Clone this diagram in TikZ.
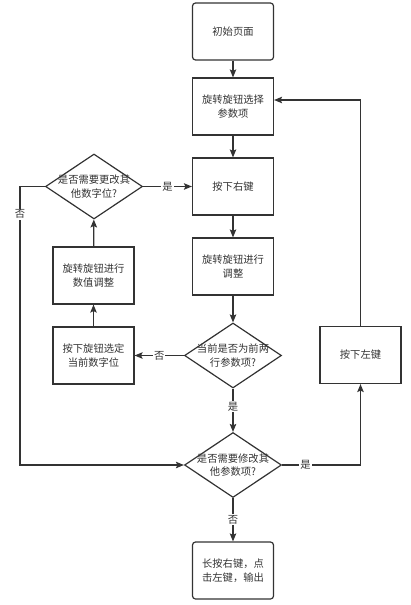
\documentclass[tikz,border=0pt]{standalone}
\usepackage{fontspec}
\newfontfamily\cjk{Noto Sans CJK SC}
\usetikzlibrary{shapes.geometric,arrows.meta}
\definecolor{lc}{HTML}{333333}
\definecolor{tc}{HTML}{333333}
\begin{document}
\begin{tikzpicture}[x=1pt,y=-1pt,
  txt/.style={text=tc, align=center, font=\cjk\fontsize{10.3}{13.5}\selectfont, inner sep=0pt},
  box/.style={txt, draw=lc, line width=1.2pt, minimum width=81pt, minimum height=57pt},
  rbox/.style={box, rounded corners=3pt},
  dia/.style={diamond, draw=lc, line width=1.2pt, inner sep=0pt, minimum width=97pt, minimum height=65pt},
  arr/.style={draw=lc, line width=1.2pt, -{Stealth[length=8pt,width=6.5pt,inset=1.5pt]}},
  lbl/.style={txt, fill=white, inner sep=1pt}]
\useasboundingbox (0,0) rectangle (410,605);
\node[rbox] (n1) at (233,31.5) {初始页面};
\node[box] (n2) at (233,106.5) {旋转旋钮选择\\参数项};
\node[box] (n3) at (233,186.5) {按下右键};
\node[box] (n4) at (233,266.5) {旋转旋钮进行\\调整};
\node[dia] (d1) at (233,355.5) {};
\node[txt] (t1) at (d1) {当前是否为前两\\行参数项?};
\node[box] (n5) at (93.5,355.5) {按下旋钮选定\\当前数字位};
\node[box] (n6) at (93.5,275.5) {旋转旋钮进行\\数值调整};
\node[dia] (d2) at (94,186.5) {};
\node[txt] (t2) at (d2) {是否需要更改其\\他数字位?};
\node[dia] (d3) at (233,465) {};
\node[txt] (t3) at (d3) {是否需要修改其\\他参数项?};
\node[rbox] (n8) at (233,570.5) {长按右键，点\\击左键，输出};
\node[box] (n7) at (360.5,355) {按下左键};
\coordinate (c1) at (20,186.5);
\coordinate (c2) at (20,465);
\coordinate (c3) at (360.5,465);
\coordinate (c4) at (360.5,100);
\draw[arr] (n1) -- (n2);
\draw[arr] (n2) -- (n3);
\draw[arr] (n3) -- (n4);
\draw[arr] (n4) -- (d1);
\draw[arr] (d1.west) -- node[lbl]{否} (n5.east);
\draw[arr] (d1.south) -- node[lbl,pos=0.42]{是} (d3.north);
\draw[arr] (n5) -- (n6);
\draw[arr] (n6) -- (d2);
\draw[arr] (d2.east) -- node[lbl]{是} (n3.west);
\draw[arr] (d2.west) -- (c1) -- node[lbl,pos=0.1]{否} (c2) -- (d3.west);
\draw[arr] (d3.east) -- node[lbl,pos=0.3]{是} (c3) -- (n7.south);
\draw[arr] (n7.north) -- (c4) -- (n2.east |- c4);
\draw[arr] (d3.south) -- node[lbl]{否} (n8.north);
\end{tikzpicture}
\end{document}
